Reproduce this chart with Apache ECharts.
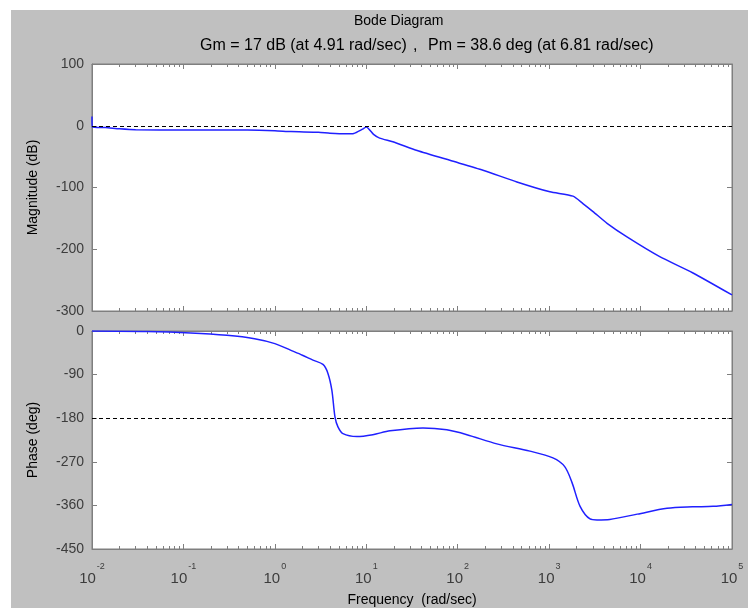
<!DOCTYPE html>
<html>
<head>
<meta charset="utf-8">
<script src="https://cdn.jsdelivr.net/npm/echarts@6/dist/echarts.min.js"></script>
<style>
  html, body { margin: 0; background: #fff; }
  #chart { width: 748px; height: 608px; }
</style>
</head>
<body>
<div id="chart"></div>
<script>
// frequency (rad/sec) and magnitude (dB)
const magFreq = [0.01, 0.0101, 0.014, 0.02, 0.03, 0.1, 0.5, 1, 1.5, 3, 4, 6, 7.3, 9, 10, 12, 14, 19.5, 36, 82, 189, 444, 1020, 1820, 2340, 3020, 4300, 7100, 16200, 37000, 100000];
const magDb = [15, -2, -3, -5, -6.5, -7, -7, -8, -9.5, -10.5, -12, -13, -12.5, -6, -2, -14, -20, -26, -40, -56, -72, -91, -107, -114, -126, -139, -158, -180, -212, -238, -274];

// frequency (rad/sec) and phase (deg)
const phaseFreq = [0.01, 0.04, 0.12, 0.3, 0.6, 1, 1.5, 2, 2.61, 3.36, 3.8, 4.2, 4.55, 4.9, 5.56, 7.9, 11.8, 18.2, 41.7, 76, 126, 268, 616, 1100, 1480, 1780, 2180, 2800, 3340, 4600, 9200, 19500, 37000, 62000, 100000];
const phaseDeg = [0, -1, -4, -9, -16, -26, -40, -50, -60, -69, -87, -122, -178, -198, -212, -218, -214, -206, -200, -204, -214, -233, -248, -262, -280, -313, -362, -388, -390, -389, -378, -366, -363, -362, -358];

const magRange = [-300, 100];
const phaseRange = [-450, 0];
const freqRange = [0.01, 100000];
const gainMarginDb = 0;
const phaseCrossDeg = -180;

const titleText = 'Bode Diagram';
const subTextGm = 'Gm = 17 dB (at 4.91 rad/sec)';
const subTextPm = 'Pm = 38.6 deg (at 6.81 rad/sec)';

// minor tick positions for log decades (log10 space)
const minorTicks = [];
for (let n = -2; n < 5; n++) {
  for (let k = 2; k <= 9; k++) minorTicks.push(n + Math.log10(k));
}

const FONT = 'Liberation Sans, Arial, sans-serif';
const FRAME = '#7f7f7f';
const LABEL = '#3c3c3c';

function logAxis(gridIndex, position, showLabel) {
  return {
    type: 'log', logBase: 10, gridIndex, position,
    min: freqRange[0], max: freqRange[1], splitNumber: 7,
    axisLine: { onZero: false, lineStyle: { color: FRAME } },
    axisTick: { inside: true, length: 5, lineStyle: { color: FRAME } },
    splitLine: { show: false },
    axisLabel: {
      show: showLabel, margin: 8, fontFamily: FONT, color: LABEL,
      formatter: (v) => '{b|10}{s|' + Math.round(Math.log10(v)) + '}',
      rich: {
        b: { fontSize: 15, fontFamily: FONT, color: LABEL, padding: [14, 0, 0, 0] },
        s: { fontSize: 9, fontFamily: FONT, color: LABEL, padding: [0, 0, 9, 1] }
      }
    },
    name: showLabel ? 'Frequency  (rad/sec)' : '',
    nameLocation: 'middle', nameGap: 44,
    nameTextStyle: { fontSize: 14, fontFamily: FONT, color: '#000' }
  };
}

function minorAxis(gridIndex, position) {
  return {
    type: 'value', gridIndex, position, min: -2, max: 5,
    axisLine: { show: false, onZero: false },
    axisTick: { inside: true, length: 3, customValues: minorTicks, lineStyle: { color: FRAME } },
    axisLabel: { show: false },
    splitLine: { show: false }
  };
}

function leftAxis(gridIndex, range, interval, name) {
  return {
    type: 'value', gridIndex, position: 'left',
    min: range[0], max: range[1], interval,
    axisLine: { show: true, onZero: false, lineStyle: { color: FRAME } },
    axisTick: { show: true, inside: true, length: 5, lineStyle: { color: FRAME } },
    splitLine: { show: false },
    axisLabel: { fontSize: 14, fontFamily: FONT, color: LABEL, margin: 8 },
    name, nameLocation: 'middle', nameGap: 52,
    nameTextStyle: { fontSize: 14, fontFamily: FONT, color: '#000' }
  };
}

function rightAxis(gridIndex, range, interval) {
  return {
    type: 'value', gridIndex, position: 'right',
    min: range[0], max: range[1], interval,
    axisLine: { show: true, onZero: false, lineStyle: { color: FRAME } },
    axisTick: { show: true, inside: true, length: 5, lineStyle: { color: FRAME } },
    splitLine: { show: false },
    axisLabel: { show: false }
  };
}

function refLine(value) {
  return {
    silent: true, symbol: 'none',
    label: { show: false },
    lineStyle: { type: [4, 3], color: '#000', width: 1 },
    data: [{ yAxis: value }]
  };
}

const chart = echarts.init(document.getElementById('chart'));
chart.setOption({
  animation: false,
  backgroundColor: '#fff',
  graphic: [
    { type: 'rect', z: -100, shape: { x: 11, y: 10, width: 737, height: 598 }, style: { fill: '#c0c0c0' } },
    { type: 'text', left: 354, top: 14, style: { text: titleText, font: '14px ' + FONT, fill: '#000' } },
    { type: 'text', left: 200, top: 38, style: { text: subTextGm, font: '16px ' + FONT, fill: '#000' } },
    { type: 'text', left: 413, top: 38, style: { text: ',', font: '16px ' + FONT, fill: '#000' } },
    { type: 'text', left: 428, top: 38, style: { text: subTextPm, font: '16px ' + FONT, fill: '#000' } }
  ],
  grid: [
    { left: 92, right: 16, top: 64, height: 247, show: true, backgroundColor: '#fff', borderColor: FRAME, borderWidth: 1 },
    { left: 92, right: 16, top: 331, height: 219, show: true, backgroundColor: '#fff', borderColor: FRAME, borderWidth: 1 }
  ],
  xAxis: [
    logAxis(0, 'bottom', false),
    logAxis(0, 'top', false),
    minorAxis(0, 'bottom'),
    minorAxis(0, 'top'),
    logAxis(1, 'bottom', true),
    logAxis(1, 'top', false),
    minorAxis(1, 'bottom'),
    minorAxis(1, 'top')
  ],
  yAxis: [
    leftAxis(0, magRange, 100, 'Magnitude (dB)'),
    rightAxis(0, magRange, 100),
    leftAxis(1, phaseRange, 90, 'Phase (deg)'),
    rightAxis(1, phaseRange, 90)
  ],
  series: [
    {
      name: 'Magnitude', type: 'line', xAxisIndex: 0, yAxisIndex: 0,
      showSymbol: false, smooth: 0.2,
      lineStyle: { color: '#2020ff', width: 1.5 },
      data: magFreq.map((f, i) => [f, magDb[i]]),
      markLine: refLine(gainMarginDb)
    },
    {
      name: 'Phase', type: 'line', xAxisIndex: 4, yAxisIndex: 2,
      showSymbol: false, smooth: 0.3,
      lineStyle: { color: '#2020ff', width: 1.5 },
      data: phaseFreq.map((f, i) => [f, phaseDeg[i]]),
      markLine: refLine(phaseCrossDeg)
    }
  ]
});
</script>
</body>
</html>
